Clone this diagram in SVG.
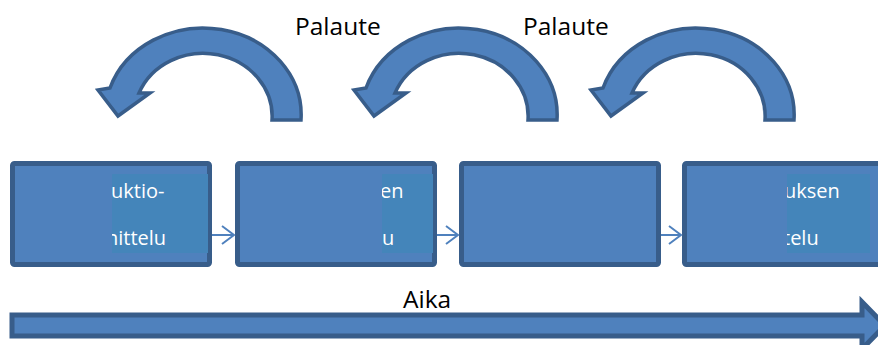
<svg xmlns="http://www.w3.org/2000/svg" width="878" height="345" viewBox="0 0 878 345">
  <style>
    .box { fill: #4F81BD; stroke: #385D8A; stroke-width: 5; }
    .tbg { fill: #4485BA; }
    .lbl { fill: #FFFFFF; font-family: "Open Sans", "Noto Sans", sans-serif; font-size: 20px; }
    .cap { fill: #000000; font-family: "Open Sans", "Noto Sans", sans-serif; font-size: 24.5px; }
    .curve { fill: #4F81BD; stroke: #385D8A; stroke-width: 3.5; stroke-linejoin: miter; }
    .link { fill: none; stroke: #4F81BD; stroke-width: 2; }
  </style>
  <defs>
    <path id="feedback" d="M 301 120 A 98 87 0 0 0 110 88 L 98 90 L 118 116 L 150 93 L 139 93 A 69 63 0 0 1 272 120 Z"/>
    <clipPath id="clip1"><rect x="112" y="174" width="96" height="79"/></clipPath>
    <clipPath id="clip2"><rect x="382" y="174" width="51" height="79"/></clipPath>
    <clipPath id="clip4"><rect x="787" y="174" width="83" height="79"/></clipPath>
  </defs>

  <!-- feedback arrows -->
  <g id="feedback1"><use href="#feedback" class="curve"/></g>
  <g id="feedback2" transform="translate(256,0)"><use href="#feedback" class="curve"/></g>
  <g id="feedback3" transform="translate(493,0)"><use href="#feedback" class="curve"/></g>
  <text class="cap" x="295" y="35">Palaute</text>
  <text class="cap" x="523" y="35">Palaute</text>

  <!-- process boxes -->
  <g id="box1">
    <rect class="box" x="12.5" y="163.5" width="197" height="101" rx="2"/>
    <rect class="tbg" x="112" y="174" width="96" height="79"/>
    <g clip-path="url(#clip1)">
      <text class="lbl" x="111" y="198">uktio-</text>
      <text class="lbl" x="106" y="245">nittelu</text>
    </g>
  </g>
  <g id="box2">
    <rect class="box" x="237.5" y="163.5" width="197" height="101" rx="2"/>
    <rect class="tbg" x="382" y="174" width="51" height="79"/>
    <g clip-path="url(#clip2)">
      <text class="lbl" x="380" y="198">en</text>
      <text class="lbl" x="382" y="245">u</text>
    </g>
  </g>
  <g id="box3">
    <rect class="box" x="461.5" y="163.5" width="197" height="101" rx="2"/>
  </g>
  <g id="box4">
    <rect class="box" x="684.5" y="163.5" width="197" height="101" rx="2"/>
    <rect class="tbg" x="787" y="174" width="83" height="79"/>
    <g clip-path="url(#clip4)">
      <text class="lbl" x="784" y="198">uksen</text>
      <text class="lbl" x="783" y="245">telu</text>
    </g>
  </g>

  <!-- connectors between boxes -->
  <g id="connectors">
    <path class="link" d="M 212 235 H 234 M 222 226 L 234 235 L 222 244"/>
    <path class="link" d="M 437 235 H 458 M 446 226 L 458 235 L 446 244"/>
    <path class="link" d="M 661 235 H 681 M 669 226 L 681 235 L 669 244"/>
  </g>

  <!-- time axis -->
  <g id="timeline">
    <path class="box" stroke-width="4" d="M 12 315 H 862 V 302 L 885 325.5 L 862 349 V 336 H 12 Z"/>
    <text class="cap" x="403" y="308">Aika</text>
  </g>
</svg>
